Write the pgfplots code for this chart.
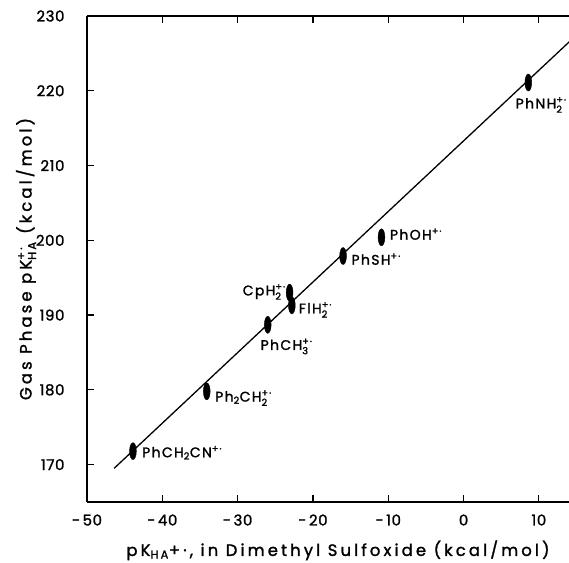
\documentclass[border=0pt]{standalone}
\usepackage{fontspec}
\setmainfont{Poppins}[UprightFeatures={FakeBold=1.5}]
\usepackage{amsmath}
\usepackage{pgfplots}
\pgfplotsset{compat=1.18}

% radical cation sign and stacked sub/superscripts in the text font
\newcommand{\rad}{+\textperiodcentered}
\newcommand{\ssp}[2]{$^{\text{#2}}_{\text{#1}}$}

\begin{document}
\begin{tikzpicture}
\begin{axis}[
    scale only axis,
    width=482bp, height=486bp,
    xmin=-50, xmax=14,
    ymin=165, ymax=230,
    axis x line*=box,
    axis y line*=left,
    y axis line style={-},
    xtick={-50,-40,...,10},
    xticklabels={-\,50,-\,40,-\,30,-\,20,-\,10,0,10},
    ytick={170,180,...,230},
    tick align=inside,
    major tick length=7bp,
    tick style={line width=1.2bp, black},
    axis line style={line width=1.8bp, black},
    /pgf/number format/assume math mode=true,
    ticklabel style={font=\fontsize{15}{17}\selectfont\addfontfeatures{LetterSpace=4}},
    xticklabel style={yshift=-9bp},
    yticklabel style={xshift=-19bp},
    xlabel={pK\textsubscript{HA}\rad, in Dimethyl Sulfoxide (kcal/mol)},
    ylabel={Gas Phase pK\ssp{HA}{\rad} (kcal/mol)},
    label style={font=\fontsize{16.5}{18}\selectfont\addfontfeatures{LetterSpace=19}},
    xlabel style={yshift=-8bp, xshift=10bp},
    ylabel style={yshift=-7bp},
    clip=true,
]
\coordinate (bl) at (rel axis cs:0,0);
\coordinate (tr) at (rel axis cs:1,1);

% fitted line
\addplot[no marks, line width=1.3bp, black] coordinates {
    (-46.4,169.5) (16,228.4)
};

% data points
\addplot[only marks, mark=*, mark size=8.5bp,
    mark options={xscale=0.4, fill=black, draw=black}] coordinates {
    (8.6,221.1)
    (-10.9,200.4)
    (-16.0,197.9)
    (-23.1,193.0)
    (-22.8,191.3)
    (-26.0,188.7)
    (-34.1,179.8)
    (-43.9,171.8)
};

\begin{scope}[every node/.style={font=\fontsize{14}{16}\selectfont\addfontfeatures{LetterSpace=10}, inner sep=0pt}]
\node[anchor=center] at (axis cs:10.3,218.1) {PhNH\ssp{2}{\rad}};
\node[anchor=west] at (axis cs:-9.8,200.6) {PhOH\ssp{}{\rad}};
\node[anchor=west] at (axis cs:-14.9,197.25) {PhSH\ssp{}{\rad}};
\node[anchor=east] at (axis cs:-23.6,193.1) {CpH\ssp{2}{\rad}};
\node[anchor=west] at (axis cs:-21.9,190.7) {FlH\ssp{2}{\rad}};
\node[anchor=center] at (axis cs:-23.5,185.8) {PhCH\ssp{3}{\rad}};
\node[anchor=west] at (axis cs:-33.0,178.9) {Ph\textsubscript{2}CH\ssp{2}{\rad}};
\node[anchor=west] at (axis cs:-42.7,171.5) {PhCH\textsubscript{2}CN\ssp{}{\rad}};
\end{scope}
\end{axis}
\pgfresetboundingbox
\path ([shift={(-87bp,-61bp)}]bl) rectangle ([shift={(0bp,16bp)}]tr);
\end{tikzpicture}
\end{document}
